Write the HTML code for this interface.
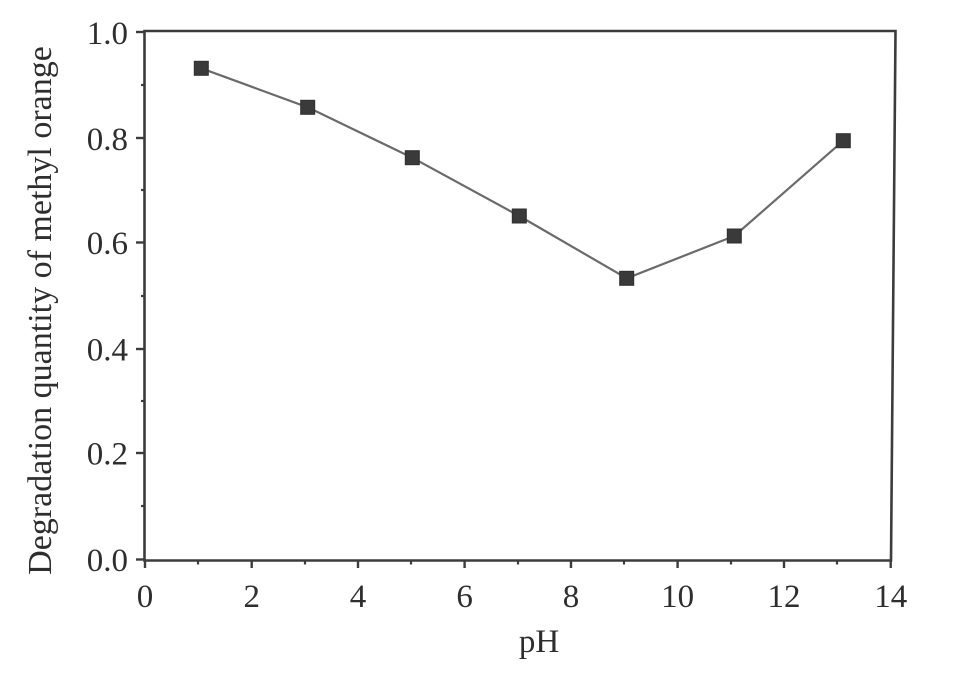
<!DOCTYPE html>
<html>
<head>
<meta charset="utf-8">
<style>
  html, body { margin: 0; padding: 0; background: #ffffff; }
  svg { display: block; }
  text { font-family: "Liberation Serif", "Times New Roman", serif; fill: #2e2e2e; }
</style>
</head>
<body>
<svg width="975" height="680" viewBox="0 0 975 680" xmlns="http://www.w3.org/2000/svg">
  <rect x="0" y="0" width="975" height="680" fill="#ffffff"/>

  <!-- frame -->
  <polygon points="144.5,31 895.5,31 891,560.5 144.5,560.5" fill="none" stroke="#3c3c3c" stroke-width="2.6" stroke-linejoin="miter"/>

  <!-- y major ticks -->
  <g stroke="#3c3c3c" stroke-width="2.4">
    <line x1="136" y1="32" x2="145" y2="32"/>
    <line x1="136" y1="138" x2="145" y2="138"/>
    <line x1="136" y1="242.5" x2="145" y2="242.5"/>
    <line x1="136" y1="349" x2="145" y2="349"/>
    <line x1="136" y1="453" x2="145" y2="453"/>
    <line x1="136" y1="559.5" x2="145" y2="559.5"/>
  </g>
  <!-- y minor ticks -->
  <g stroke="#3c3c3c" stroke-width="2.2">
    <line x1="141" y1="85" x2="145" y2="85"/>
    <line x1="141" y1="190" x2="145" y2="190"/>
    <line x1="141" y1="296" x2="145" y2="296"/>
    <line x1="141" y1="401" x2="145" y2="401"/>
    <line x1="141" y1="506" x2="145" y2="506"/>
  </g>

  <!-- x major ticks -->
  <g stroke="#3c3c3c" stroke-width="2.4">
    <line x1="145" y1="560" x2="145" y2="568"/>
    <line x1="251.7" y1="560" x2="251.7" y2="568"/>
    <line x1="358" y1="560" x2="358" y2="568"/>
    <line x1="464.6" y1="560" x2="464.6" y2="568"/>
    <line x1="571" y1="560" x2="571" y2="568"/>
    <line x1="677.6" y1="560" x2="677.6" y2="568"/>
    <line x1="784" y1="560" x2="784" y2="568"/>
    <line x1="890.7" y1="560" x2="890.7" y2="568"/>
  </g>
  <!-- x minor ticks -->
  <g stroke="#3c3c3c" stroke-width="2.2">
    <line x1="198" y1="560" x2="198" y2="564.5"/>
    <line x1="305" y1="560" x2="305" y2="564.5"/>
    <line x1="411" y1="560" x2="411" y2="564.5"/>
    <line x1="518" y1="560" x2="518" y2="564.5"/>
    <line x1="624" y1="560" x2="624" y2="564.5"/>
    <line x1="731" y1="560" x2="731" y2="564.5"/>
    <line x1="837" y1="560" x2="837" y2="564.5"/>
  </g>

  <!-- y tick labels -->
  <g font-size="33" text-anchor="end">
    <text x="128" y="44">1.0</text>
    <text x="128" y="150">0.8</text>
    <text x="128" y="254">0.6</text>
    <text x="128" y="360.5">0.4</text>
    <text x="128" y="464.5">0.2</text>
    <text x="128" y="571">0.0</text>
  </g>

  <!-- x tick labels -->
  <g font-size="33" text-anchor="middle">
    <text x="145" y="607">0</text>
    <text x="251.7" y="607">2</text>
    <text x="358" y="607">4</text>
    <text x="464.6" y="607">6</text>
    <text x="571" y="607">8</text>
    <text x="677.6" y="607">10</text>
    <text x="784" y="607">12</text>
    <text x="890.7" y="607">14</text>
  </g>

  <!-- axis titles -->
  <text x="539" y="652" font-size="33" text-anchor="middle">pH</text>
  <text transform="translate(51,310.5) rotate(-90)" font-size="34" text-anchor="middle">Degradation quantity of methyl orange</text>

  <!-- series line -->
  <polyline points="201.3,68.3 307.7,107.3 412.3,157.7 519.3,216 626.7,278.3 734.3,236 843.3,140.7"
            fill="none" stroke="#6a6a6a" stroke-width="2.2" stroke-linejoin="round"/>

  <!-- markers -->
  <g fill="#3a3a3a" stroke="#2f2f2f" stroke-width="1">
    <rect x="194.3" y="61.3" width="14" height="14"/>
    <rect x="300.7" y="100.3" width="14" height="14"/>
    <rect x="405.3" y="150.7" width="14" height="14"/>
    <rect x="512.3" y="209" width="14" height="14"/>
    <rect x="619.7" y="271.3" width="14" height="14"/>
    <rect x="727.3" y="229" width="14" height="14"/>
    <rect x="836.3" y="133.7" width="14" height="14"/>
  </g>
</svg>
</body>
</html>
